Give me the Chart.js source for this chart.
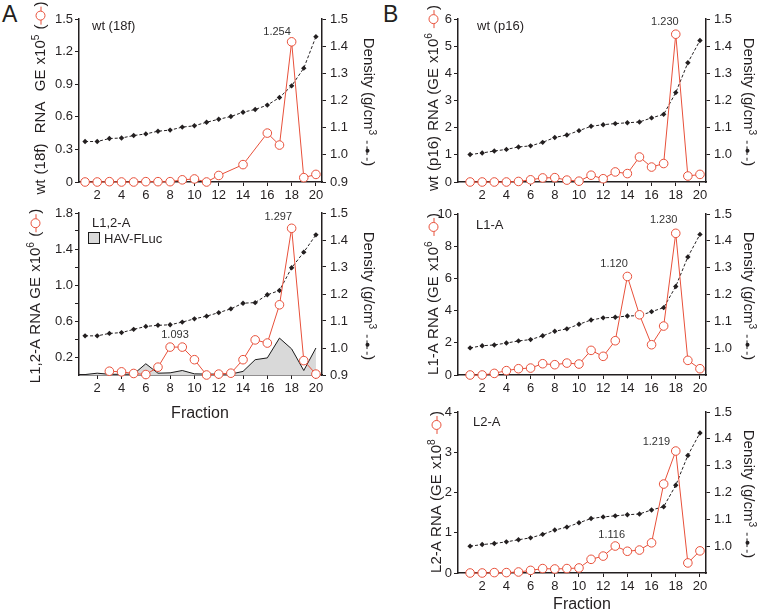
<!DOCTYPE html>
<html><head><meta charset="utf-8">
<script src="https://cdn.jsdelivr.net/npm/chart.js@4.4.1/dist/chart.umd.min.js"></script>
<style>
body{margin:0;background:#fff;width:759px;height:612px;position:relative;overflow:hidden;font-family:'Liberation Sans',Arial,sans-serif;color:#231f20}
canvas{position:absolute}
.t{position:absolute;white-space:nowrap;line-height:1}
.rl{transform:translate(-50%,-50%) rotate(-90deg);font-size:15px;word-spacing:1px}
.rr{transform:translate(-50%,-50%) rotate(90deg);font-size:15px}
.c{transform:translate(-50%,-50%);font-size:16px}
sup{font-size:68%;vertical-align:0.5em;line-height:0}
.sym{display:inline-block;position:relative;width:18px;height:10px;vertical-align:-1px}
.sym .ln{position:absolute;left:0;right:0;top:5px;border-top:1px solid #e8503a}
.sym .ci{position:absolute;left:4px;top:0;width:8px;height:8px;border:1px solid #e8503a;border-radius:50%;background:#fff}
.dsym{display:inline-block;position:relative;width:22px;height:10px;vertical-align:-1px}
.dsym .ln{position:absolute;left:1px;right:1px;top:5px;border-top:1px dashed #231f20}
.dsym .ci{position:absolute;left:9px;top:3px;width:4px;height:4px;border-radius:50%;background:#231f20}
.lbl{font-size:13px}
.letter{font-size:23px}
</style></head>
<body>
<script>
// ---------- data ----------
const fractions = [1,2,3,4,5,6,7,8,9,10,11,12,13,14,15,16,17,18,19,20];
const xTickValues = [2,4,6,8,10,12,14,16,18,20];

// Panel A top: wt (18f)
const aTopRnaFractions = [1,2,3,4,5,6,7,8,9,10,11,12,14,16,17,18,19,20];
const aTopRna = [0,0,0.003,0,0,0.003,0.003,0.003,0.02,0.028,0,0.06,0.16,0.45,0.34,1.29,0.04,0.07];
const aTopDensity = [1.049,1.049,1.06,1.062,1.071,1.077,1.087,1.091,1.102,1.107,1.12,1.131,1.141,1.157,1.167,1.183,1.211,1.254,1.319,1.435];
const aTopLeftTicks = [0,0.3,0.6,0.9,1.2,1.5];

// Panel A bottom: L1,2-A and HAV-FLuc
const aBotRnaFractions = [3,4,5,6,7,8,9,10,11,12,13,14,15,16,17,18,19,20];
const aBotRna = [0.042,0.035,0.017,0.005,0.087,0.31,0.31,0.17,0,0.01,0.02,0.17,0.39,0.355,0.78,1.63,0.16,0.01];
const aBotFluc = [0.005,0.02,0.008,0.008,0.01,0.125,0.02,0.024,0.05,0.013,0.01,0.01,0.01,0.04,0.17,0.19,0.41,0.29,0.05,0.3];
const aBotDensity = [1.045,1.045,1.054,1.057,1.069,1.08,1.084,1.086,1.096,1.108,1.118,1.131,1.145,1.166,1.168,1.197,1.213,1.297,1.355,1.419];
const aBotLeftTicks = [0.2,0.4,0.6,0.8,1.0,1.2,1.4,1.6,1.8];
const aBotLeftLabels = [0.2,0.6,1.0,1.4,1.8];

// Panel B
const bTopRna = [0,0,0,0,0.02,0.08,0.15,0.16,0.07,0.03,0.25,0.12,0.37,0.31,0.92,0.55,0.68,5.44,0.22,0.28];
const bTopDensity = [1.001,1.007,1.014,1.02,1.029,1.033,1.046,1.064,1.073,1.089,1.105,1.111,1.115,1.118,1.121,1.136,1.149,1.229,1.339,1.421];
const bTopLeftTicks = [0,1,2,3,4,5,6];
const bMidRna = [0,0,0.1,0.27,0.39,0.43,0.7,0.64,0.74,0.68,1.53,1.16,2.13,6.12,3.74,1.88,3.04,8.8,0.91,0.39];
const bMidDensity = [1.001,1.009,1.012,1.019,1.027,1.032,1.046,1.063,1.072,1.089,1.105,1.113,1.115,1.12,1.121,1.136,1.151,1.23,1.34,1.424];
const bMidLeftTicks = [0,2,4,6,8,10];
const bBotRna = [0,0,0.01,0.01,0.025,0.065,0.11,0.1,0.11,0.125,0.34,0.42,0.67,0.54,0.57,0.75,2.21,3.03,0.25,0.55];
const bBotDensity = [1.0,1.006,1.01,1.016,1.024,1.031,1.044,1.06,1.071,1.087,1.103,1.109,1.113,1.117,1.12,1.135,1.147,1.227,1.338,1.422];
const bBotLeftTicks = [0,1,2,3,4];

const densityTicksA = [0.9,1.0,1.1,1.2,1.3,1.4,1.5];
const densityTicksB = [1.0,1.1,1.2,1.3,1.4,1.5];

// ---------- drawing ----------
const INK = '#231f20', RED = '#e8503a';
const FONT = "'Liberation Sans', Arial, sans-serif";
const pts = (xs, ys) => xs.map((x, i) => ({x, y: ys[i]}));

function addText(html, x, y, cls) {
  const d = document.createElement('div');
  d.className = 't ' + cls;
  d.style.left = x + 'px'; d.style.top = y + 'px';
  d.innerHTML = html;
  document.body.appendChild(d);
}

function makePanel(p) {
  const PL = 50, PR = 50, PB = 28, PT = 12;
  const cv = document.createElement('canvas');
  const W = (p.right - p.left) + PL + PR, H = (p.bottom - p.top) + PT + PB;
  cv.width = W; cv.height = H;
  cv.style.left = (p.left - PL) + 'px'; cv.style.top = (p.top - PT) + 'px';
  document.body.appendChild(cv);

  const annot = {
    id: 'annot',
    afterDatasetsDraw(chart) {
      const ctx = chart.ctx, xs = chart.scales.x, ys = chart.scales.yL;
      ctx.save();
      ctx.font = '11px ' + FONT; ctx.fillStyle = '#333';
      ctx.textAlign = 'center'; ctx.textBaseline = 'middle';
      p.notes.forEach(n => ctx.fillText(n.text, xs.getPixelForValue(n.x), ys.getPixelForValue(n.y)));
      ctx.restore();
    }
  };

  const datasets = [];
  if (p.fluc) datasets.push({
    data: pts(fractions, p.fluc), yAxisID: 'yL', order: 3,
    borderColor: '#1a1a1a', borderWidth: 1, backgroundColor: '#d9d9d9', fill: 'origin',
    pointRadius: 0, tension: 0
  });
  datasets.push({
    data: pts(fractions, p.density), yAxisID: 'yR', order: 2,
    borderColor: INK, borderWidth: 1, borderDash: [3, 2], backgroundColor: INK,
    pointStyle: 'rectRot', pointRadius: 2.7, pointBorderWidth: 0, pointBackgroundColor: INK,
    tension: 0, fill: false, clip: false
  });
  datasets.push({
    data: pts(p.rnaX, p.rna), yAxisID: 'yL', order: 1,
    borderColor: RED, borderWidth: 1, backgroundColor: '#fff',
    pointStyle: 'circle', pointRadius: 4.3, pointBorderWidth: 1, pointBackgroundColor: '#fff', pointBorderColor: RED,
    tension: 0, fill: false, clip: false
  });

  const gridOpt = {display: true, drawOnChartArea: false, drawTicks: true, tickLength: 4, color: INK, tickColor: INK, lineWidth: 1};
  const borderOpt = {display: true, color: INK, width: 1.5};
  const tickFont = {family: FONT, size: 13};

  new Chart(cv, {
    type: 'line',
    data: {datasets},
    options: {
      responsive: false, animation: false, devicePixelRatio: 1,
      layout: {padding: {top: PT, left: 0, right: 0, bottom: 0}},
      plugins: {legend: {display: false}, tooltip: {enabled: false}},
      scales: {
        x: {
          type: 'linear', min: p.xmin, max: 20.5, grid: gridOpt, border: borderOpt,
          ticks: {color: INK, font: tickFont, padding: 2, autoSkip: false, maxRotation: 0,
                  callback: v => String(v)},
          afterBuildTicks: s => { s.ticks = xTickValues.map(v => ({value: v})); },
          afterFit: s => { s.height = PB; }
        },
        yL: {
          type: 'linear', position: 'left', min: p.lmin, max: p.lmax, grid: gridOpt, border: borderOpt,
          ticks: {color: INK, font: tickFont, padding: 2, autoSkip: false,
                  callback: p.leftLabel},
          afterBuildTicks: s => { s.ticks = p.leftTicks.map(v => ({value: v})); },
          afterFit: s => { s.width = PL; }
        },
        yR: {
          type: 'linear', position: 'right', min: 0.9, max: 1.5, grid: gridOpt, border: borderOpt,
          ticks: {color: INK, font: tickFont, padding: 4, autoSkip: false, callback: v => v.toFixed(1)},
          afterBuildTicks: s => { s.ticks = p.rightTicks.map(v => ({value: v})); },
          afterFit: s => { s.width = PR; }
        }
      }
    },
    plugins: [annot]
  });
}

const plain = v => String(v);

makePanel({left: 79, right: 322, top: 19, bottom: 182, xmin: 0.5,
  rnaX: aTopRnaFractions, rna: aTopRna, density: aTopDensity,
  lmin: 0, lmax: 1.5, leftTicks: aTopLeftTicks, leftLabel: plain, rightTicks: densityTicksA,
  notes: [{x: 16.8, y: 1.38, text: '1.254'}]});

makePanel({left: 79, right: 322, top: 213, bottom: 375, xmin: 0.5,
  rnaX: aBotRnaFractions, rna: aBotRna, density: aBotDensity, fluc: aBotFluc,
  lmin: 0, lmax: 1.8, leftTicks: aBotLeftTicks,
  leftLabel: v => aBotLeftLabels.includes(v) ? v.toFixed(1) : '', rightTicks: densityTicksA,
  notes: [{x: 16.9, y: 1.76, text: '1.297'}, {x: 8.4, y: 0.45, text: '1.093'}]});

makePanel({left: 458, right: 706, top: 19, bottom: 182, xmin: 0,
  rnaX: fractions, rna: bTopRna, density: bTopDensity,
  lmin: 0, lmax: 6, leftTicks: bTopLeftTicks, leftLabel: plain, rightTicks: densityTicksB,
  notes: [{x: 17.1, y: 5.88, text: '1.230'}]});

makePanel({left: 458, right: 706, top: 214, bottom: 375, xmin: 0,
  rnaX: fractions, rna: bMidRna, density: bMidDensity,
  lmin: 0, lmax: 10, leftTicks: bMidLeftTicks, leftLabel: plain, rightTicks: densityTicksB,
  notes: [{x: 17.0, y: 9.6, text: '1.230'}, {x: 12.9, y: 6.9, text: '1.120'}]});

makePanel({left: 458, right: 706, top: 412, bottom: 573, xmin: 0,
  rnaX: fractions, rna: bBotRna, density: bBotDensity,
  lmin: 0, lmax: 4, leftTicks: bBotLeftTicks, leftLabel: plain, rightTicks: densityTicksB,
  notes: [{x: 16.4, y: 3.25, text: '1.219'}, {x: 12.7, y: 0.95, text: '1.116'}]});

// ---------- text ----------
const redSym = '<span class="sym"><span class="ln"></span><span class="ci"></span></span>';
const denSym = '<span class="dsym"><span class="ln"></span><span class="ci"></span></span>';
const densTitle = 'Density (g/cm<sup>3</sup> ' + denSym + ')';

addText('A', 2, 3, 'letter');
addText('B', 383, 3, 'letter');

addText('wt (18f)&nbsp; RNA&nbsp; GE x10<sup>5</sup> (' + redSym + ')', 39, 98, 'rl');
addText('L1,2-A RNA GE x10<sup>6</sup> (' + redSym + ')', 34, 296, 'rl');
addText('wt (p16) RNA (GE x10<sup>6</sup> ' + redSym + ')', 432, 98, 'rl');
addText('L1-A RNA (GE x10<sup>6</sup> ' + redSym + ')', 432, 294, 'rl');
addText('L2-A RNA (GE x10<sup>8</sup> ' + redSym + ')', 435, 492, 'rl');

addText(densTitle, 369, 102, 'rr');
addText(densTitle, 369, 296, 'rr');
addText(densTitle, 749, 102, 'rr');
addText(densTitle, 749, 296, 'rr');
addText(densTitle, 749, 494, 'rr');

addText('Fraction', 200, 413, 'c');
addText('Fraction', 582, 604, 'c');

addText('wt (18f)', 92, 19, 'lbl');
addText('L1,2-A', 92, 216, 'lbl');
addText('HAV-FLuc', 104, 232, 'lbl');
addText('wt (p16)', 477, 19, 'lbl');
addText('L1-A', 476, 218, 'lbl');
addText('L2-A', 473, 415, 'lbl');
const box = document.createElement('div');
box.style.cssText = 'position:absolute;left:88px;top:232px;width:10px;height:10px;background:#d9d9d9;border:1px solid #1a1a1a';
document.body.appendChild(box);
</script>
</body></html>
